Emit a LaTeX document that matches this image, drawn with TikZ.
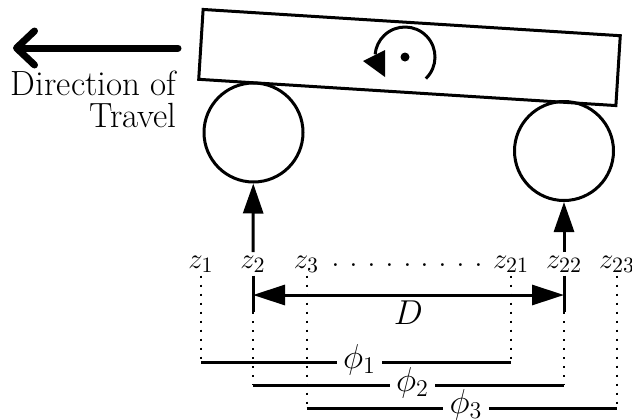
\documentclass[tikz,border=0pt]{standalone}
\usepackage{amsmath}
\usepackage{tikz}
\usetikzlibrary{arrows.meta,calc,positioning}
\newcommand{\wdot}{.\kern4.6pt}
\tikzset{
  chassis/.style={draw=black,line width=1.5pt,rectangle,minimum width=209pt,minimum height=35pt,inner sep=0pt,rotate=-3.6},
  wheel/.style={draw=black,line width=1.5pt,circle,minimum size=99pt*0.5,inner sep=0pt},
  zlabel/.style={anchor=base,inner sep=1.5pt,font=\fontsize{15.5}{16}\selectfont},
  philabel/.style={inner xsep=3pt,inner ysep=0pt,font=\fontsize{17}{16}\selectfont},
  load/.style={-{Triangle[length=15pt,width=10pt]},line width=1.5pt},
  span/.style={{Triangle[length=16pt,width=10pt]}-{Triangle[length=16pt,width=10pt]},line width=1.5pt},
  bar/.style={line width=1.5pt},
  guide/.style={line width=1pt,dash pattern=on 1pt off 3.5pt}
}
\begin{document}
\begin{tikzpicture}[x=0.5pt,y=-0.5pt]
  \useasboundingbox (0,0) rectangle (632,419);
  % vehicle
  \node[chassis] (body) at (409.5,57.5) {};
  \node[wheel] (w1) at (253.5,132.5) {};
  \node[wheel] (w2) at (564,151) {};
  \coordinate (spin) at (405,57);
  \node[circle,fill=black,minimum size=4.5pt,inner sep=0pt] (pivot) at (spin) {};
  \draw[line width=1.5pt] (spin) ++(46:30) arc[start angle=46,end angle=-175,radius=30];
  \fill (363,61) -- (385,50) -- (385,77) -- cycle;
  % travel
  \coordinate (t1) at (178,48);
  \coordinate (t2) at (13,48);
  \draw[line width=3.5pt,line cap=round,-{Straight Barb[length=9pt,width=17pt,round]}] (t1) -- (t2);
  \node[anchor=north east,align=right,inner sep=0pt,font=\fontsize{17.5}{16}\selectfont] (travel) at (177,71) {Direction of\\Travel};
  % sample points
  \node[zlabel] (z1) at (201,268) {$z_1$};
  \node[zlabel] (z2) at (253,268) {$z_2$};
  \node[zlabel] (z3) at (306.5,268) {$z_3$};
  \node[zlabel] (z21) at (511,268) {$z_{21}$};
  \node[zlabel] (z22) at (564,268) {$z_{22}$};
  \node[zlabel] (z23) at (617,268) {$z_{23}$};
  \node[anchor=base,inner sep=0pt,font=\fontsize{17.5}{16}\selectfont] (dots) at (412,266) {\wdot\wdot\wdot\wdot\wdot\wdot\wdot\wdot\wdot};
  \draw[load] (z2.north) -- (w1);
  \draw[load] (z22.north) -- (w2);
  % wheelbase
  \coordinate (d1) at (253,295);
  \coordinate (d2) at (564,295);
  \coordinate (e1) at (253,312);
  \coordinate (e2) at (564,312);
  \draw[bar] (z2.south) -- (e1);
  \draw[bar] (z22.south) -- (e2);
  \draw[span] (d1) -- node[below,inner sep=2pt,font=\fontsize{16}{16}\selectfont] (dlabel) {$D$} (d2);
  % windows
  \coordinate (p1l) at (201,362.5);
  \coordinate (p1r) at (511,362.5);
  \coordinate (p2l) at (253,385);
  \coordinate (p2r) at (564,385);
  \coordinate (p3l) at (306.5,408);
  \coordinate (p3r) at (617,408);
  \draw[guide] (z1.south) -- (p1l);
  \draw[guide] (z21.south) -- (p1r);
  \draw[guide] (e1) -- (p2l);
  \draw[guide] (e2) -- (p2r);
  \draw[guide] (z3.south) -- (p3l);
  \draw[guide] (z23.south) -- (p3r);
  \node[philabel] (phi1) at (359.5,360) {$\phi_1$};
  \node[philabel] (phi2) at (412.5,383) {$\phi_2$};
  \node[philabel] (phi3) at (466,404.5) {$\phi_3$};
  \draw[bar] (p1l) -- (phi1.west |- p1l);
  \draw[bar] (phi1.east |- p1r) -- (p1r);
  \draw[bar] (p2l) -- (phi2.west |- p2l);
  \draw[bar] (phi2.east |- p2r) -- (p2r);
  \draw[bar] (p3l) -- (phi3.west |- p3l);
  \draw[bar] (phi3.east |- p3r) -- (p3r);
\end{tikzpicture}
\end{document}
